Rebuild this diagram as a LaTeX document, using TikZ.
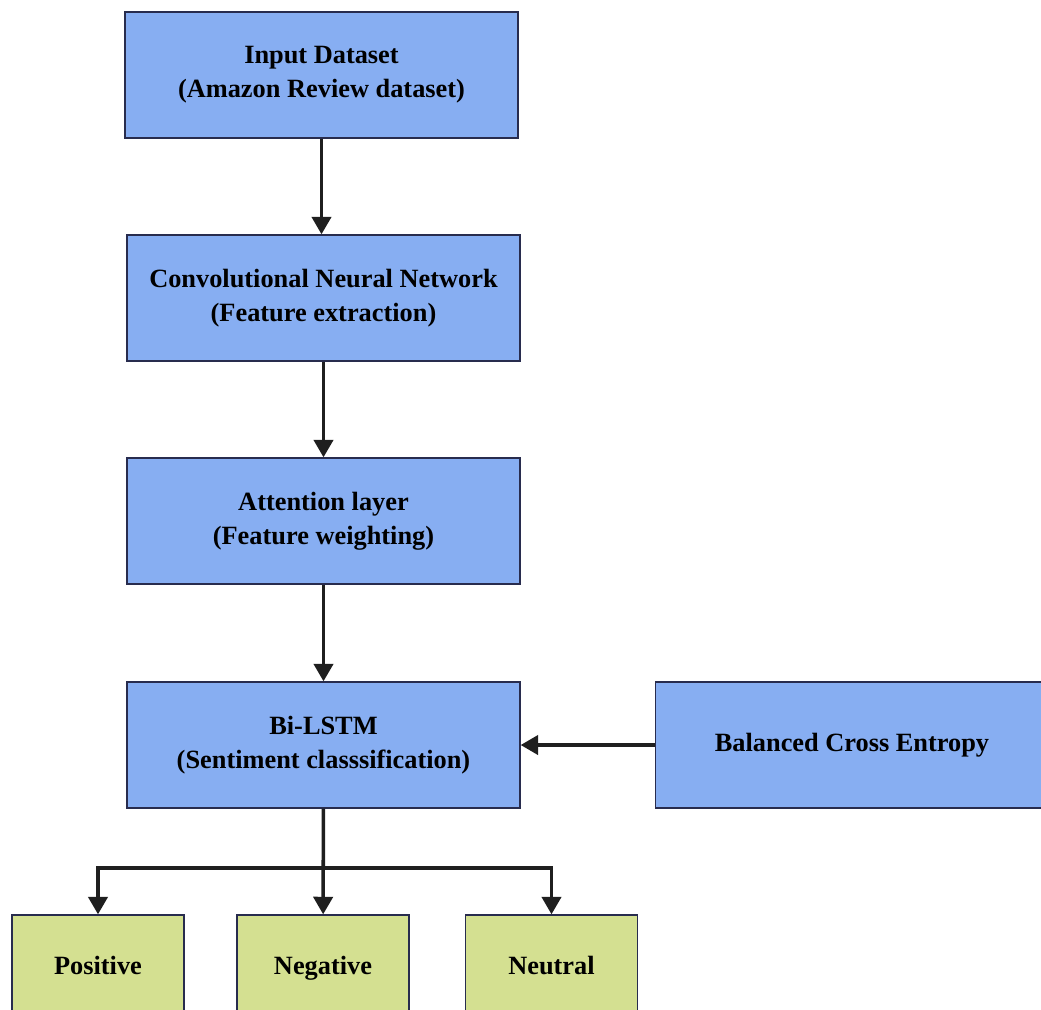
\documentclass[tikz,border=0pt]{standalone}
\usepackage{fontspec}
\setmainfont{Liberation Serif}
\usetikzlibrary{arrows.meta}
\definecolor{boxblue}{RGB}{135,174,242}
\definecolor{boxgreen}{RGB}{212,224,145}
\definecolor{boxline}{RGB}{40,44,78}
\tikzset{
    stage/.style={draw=boxline, fill=boxblue, line width=0.8pt, minimum width=7.86cm, minimum height=2.52cm, align=center, font=\fontsize{15}{19.5}\selectfont\bfseries},
    leaf/.style={stage, fill=boxgreen, minimum width=3.44cm},
    flow/.style={line width=2pt, draw=black!88, -{Triangle[width=11pt,length=10pt]}}
}
\begin{document}
\begin{tikzpicture}[x=0.02cm, y=-0.02cm]
        \clip (0,0) rectangle (1041,1009);
        \useasboundingbox (0,0) rectangle (1041,1009);
        \node[stage] (input) at (321.5, 75) {Input Dataset\\(Amazon Review dataset)};
        \node[stage] (cnn) at (323.5, 298) {Convolutional Neural Network\\(Feature extraction)};
        \node[stage] (att) at (323.5, 521) {Attention layer\\(Feature weighting)};
        \node[stage] (lstm) at (323.5, 745) {Bi-LSTM\\(Sentiment classsification)};
        \node[stage] (bce) at (852, 745) {Balanced Cross Entropy};
        \node[leaf] (pos) at (98, 978) {\raisebox{14.5pt}{Positive}};
        \node[leaf] (neg) at (323, 978) {\raisebox{14.5pt}{Negative}};
        \node[leaf] (neu) at (551.5, 978) {\raisebox{14.5pt}{Neutral}};
        \coordinate (split) at (323.5, 868);
        \draw[flow] (input) -- (input |- cnn.north);
        \draw[flow] (cnn) -- (att);
        \draw[flow] (att) -- (lstm);
        \draw[flow] (bce) -- (lstm);
        \draw[flow] (lstm) -- (neg);
        \draw[flow] (split) -| (pos.north);
        \draw[flow] (split) -| (neu.north);
    \end{tikzpicture}
\end{document}
